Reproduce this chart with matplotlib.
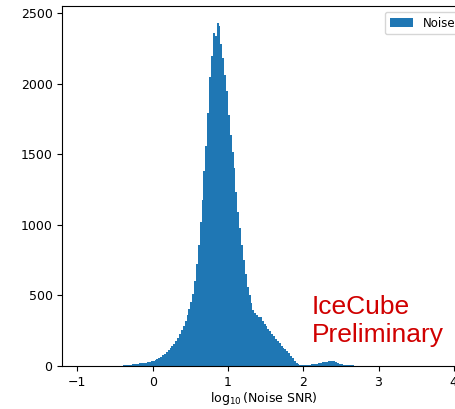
import numpy as np
import matplotlib.pyplot as plt

# histogram of log10(noise SNR), bin width 0.025 starting at -0.5
bin_start = -0.5
bin_width = 0.025
counts = [
    1, 2, 2, 3, 4, 5, 6, 8, 10, 11, 13, 14, 16, 18, 20, 22, 24, 27, 30, 34,          # -0.5 .. 0.0
    38, 44, 50, 58, 66, 75, 86, 98, 110, 125, 140, 158, 178, 200, 225, 255,          # 0.0 .. 0.4
    285, 320, 360, 405, 455, 510, 600, 720, 860, 1020, 1180, 1380, 1560, 1790,      # 0.4 .. 0.75
    2050, 2200, 2360, 2340, 2430, 2410, 2280, 2180, 2060, 1950,                      # 0.75 .. 1.0
    1780, 1640, 1520, 1400, 1230, 1090, 980, 860, 750, 650, 560, 500,               # 1.0 .. 1.3
    450, 400, 375, 365, 350, 345, 320, 300, 285, 265, 250, 230, 210, 195,           # 1.3 .. 1.65
    180, 160, 145, 130, 118, 105, 90, 72, 55, 38, 24, 12, 6, 4,                     # 1.65 .. 2.0
    4, 5, 7, 9, 11, 13, 15, 17, 19, 22, 25, 28, 31, 34, 36, 35, 32, 27, 21, 16,     # 2.0 .. 2.5
    12, 9, 7, 6, 5, 4, 4, 3, 3, 3, 2, 2, 2, 2, 1, 1, 1, 1, 1, 1, 1,                  # 2.5 .. 3.025
]

edges = bin_start + bin_width * np.arange(len(counts) + 1)

fig = plt.figure(figsize=(4.56, 4.09), dpi=100)
ax = fig.add_axes([0.1366, 0.1051, 0.885, 0.880])

ax.hist(edges[:-1], bins=edges, weights=counts, color='#1f77b4', label='Noise')

ax.set_xlim(-1.20, 4.16)
ax.set_ylim(0, 2551)
ax.set_xticks([-1, 0, 1, 2, 3, 4])
ax.set_yticks([0, 500, 1000, 1500, 2000, 2500])
ax.tick_params(labelsize=9)
ax.set_xlabel(r'$\log_{10}$(Noise SNR)', fontsize=9, labelpad=1)
ax.legend(loc='upper right', fontsize=8.5)

ax.text(2.115, 170, 'IceCube\nPreliminary', color='#d00000', fontsize=19,
        family='Liberation Sans', ha='left', va='baseline')

fig.savefig('out.png', dpi=100)
